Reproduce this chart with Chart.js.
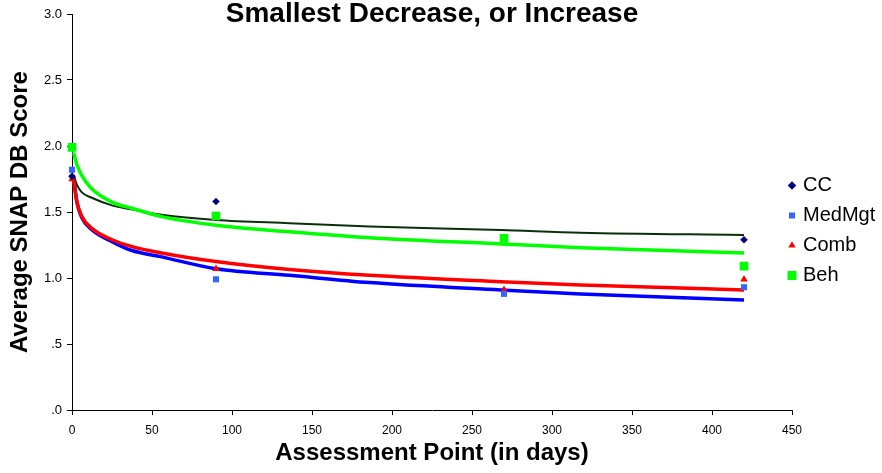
<!DOCTYPE html>
<html><head><meta charset="utf-8">
<script src="https://cdn.jsdelivr.net/npm/chart.js@4.4.1/dist/chart.umd.min.js"></script>
<style>html,body{margin:0;padding:0;background:#fff}#wrap{width:882px;height:473px}</style>
</head><body><div id="wrap"><canvas id="c" width="882" height="473"></canvas></div>
<script>
const chartTitle = 'Smallest Decrease, or Increase';
const xTitle = 'Assessment Point (in days)';
const yTitle = 'Average SNAP DB Score';
const seriesNames = ['CC', 'MedMgt', 'Comb', 'Beh'];

// observed scores at each assessment point
const days   = [0, 90, 270, 420];
const cc     = [1.77, 1.58, null, 1.29];
const medMgt = [1.82, 0.99, 0.88, 0.93];
const comb   = [1.75, 1.07, 0.91, 0.99];
const beh    = [1.99, 1.47, 1.30, 1.09];

// trend lines
const trendDays   = [1, 3, 6, 12, 25, 37, 56, 90, 136, 186, 268, 318, 420];
const ccTrend     = [1.78, 1.71, 1.65, 1.61, 1.55, 1.52, 1.48, 1.44, 1.415, 1.39, 1.364, 1.343, 1.326];
const medMgtTrend = [1.77, 1.58, 1.46, 1.37, 1.275, 1.21, 1.16, 1.07, 1.02, 0.965, 0.909, 0.879, 0.833];
const combTrend   = [1.74, 1.58, 1.47, 1.38, 1.29, 1.24, 1.19, 1.125, 1.065, 1.02, 0.972, 0.947, 0.91];
const behTrend    = [1.95, 1.86, 1.78, 1.68, 1.575, 1.53, 1.465, 1.40, 1.35, 1.305, 1.258, 1.23, 1.19];

const yTickLabels = ['.0', '.5', '1.0', '1.5', '2.0', '2.5', '3.0'];
const xTickStep = 50, xMax = 450, yTickStep = 0.5, yMax = 3;

const pts = (xs, ys) => xs.map((x, i) => ({x: x, y: ys[i]}));

Chart.defaults.font.family = '"Liberation Sans", Arial, Helvetica, sans-serif';
Chart.defaults.color = '#000';

function markerSet(label, data, color, style, radius, border) {
  return {
    label: label, data: data, order: 0, showLine: false,
    pointStyle: style, pointRadius: radius, pointHoverRadius: radius,
    backgroundColor: color, borderColor: color,
    pointBackgroundColor: color, pointBorderColor: color, pointBorderWidth: border,
    clip: false
  };
}
function trendSet(label, data, color, width, order) {
  return {
    label: label, data: data, order: order, showLine: true,
    borderColor: color, backgroundColor: color, borderWidth: width,
    pointRadius: 0, pointHoverRadius: 0, tension: 0, cubicInterpolationMode: 'monotone',
    clip: false
  };
}

const tweakPlugin = {
  id: 'tweak',
  afterLayout(chart) {
    const L = chart.legend;
    if (L) { L.left -= 11; L.right += 11; L.top -= 6; L.bottom -= 6; }
  }
};

new Chart(document.getElementById('c'), {
  type: 'scatter',
  data: {
    datasets: [
      markerSet(seriesNames[0], pts(days, cc), '#000080', 'rectRot', 3.8, 0),
      markerSet(seriesNames[1], pts(days, medMgt), '#3366FF', 'rect', 4.3, 0),
      markerSet(seriesNames[2], pts(days, comb), '#FF0000', 'triangle', 4.3, 0),
      markerSet(seriesNames[3], pts(days, beh), '#00FF00', 'rect', 4, 3),
      trendSet(seriesNames[0] + ' trend', pts(trendDays, ccTrend), '#0a300a', 2, 3),
      trendSet(seriesNames[1] + ' trend', pts(trendDays, medMgtTrend), '#0000FF', 3.5, 4),
      trendSet(seriesNames[2] + ' trend', pts(trendDays, combTrend), '#FF0000', 3.5, 2),
      trendSet(seriesNames[3] + ' trend', pts(trendDays, behTrend), '#00FF00', 3.5, 1)
    ]
  },
  options: {
    responsive: false,
    animation: false,
    devicePixelRatio: 1,
    layout: {padding: {left: 0, right: 0, top: 0, bottom: 0}},
    plugins: {
      tooltip: {enabled: false},
      title: {
        display: true, text: chartTitle, fullSize: false, color: '#000',
        font: {size: 28, weight: 'bold'},
        padding: {top: -2.5, bottom: -17.1}
      },
      legend: {
        position: 'right', align: 'center', maxWidth: 90,
        labels: {
          usePointStyle: true, boxWidth: 2, boxHeight: 6, padding: 10,
          font: {size: 20}, color: '#000',
          filter: (item) => item.datasetIndex < 4
        }
      }
    },
    scales: {
      x: {
        type: 'linear', min: 0, max: xMax,
        afterFit(s) { s.height = 63; },
        ticks: {stepSize: xTickStep, padding: 8, font: {size: 12}, color: '#000', maxRotation: 0},
        grid: {display: true, drawOnChartArea: false, drawTicks: true, tickLength: 5, color: '#000', lineWidth: 1},
        border: {display: true, color: '#000', width: 1},
        title: {display: true, text: xTitle, font: {size: 24, weight: 'bold'}, color: '#000', padding: {top: 0, bottom: 5}}
      },
      y: {
        type: 'linear', min: 0, max: yMax,
        afterFit(s) { s.width = 72; },
        ticks: {stepSize: yTickStep, padding: 5, font: {size: 13}, color: '#000',
          callback: (v, i) => yTickLabels[i]},
        grid: {display: true, drawOnChartArea: false, drawTicks: true, tickLength: 5, color: '#000', lineWidth: 1},
        border: {display: true, color: '#000', width: 1},
        title: {display: true, text: yTitle, font: {size: 24, weight: 'bold'}, color: '#000', padding: {top: 6, bottom: 0}}
      }
    }
  },
  plugins: [tweakPlugin]
});
</script>
</body></html>
